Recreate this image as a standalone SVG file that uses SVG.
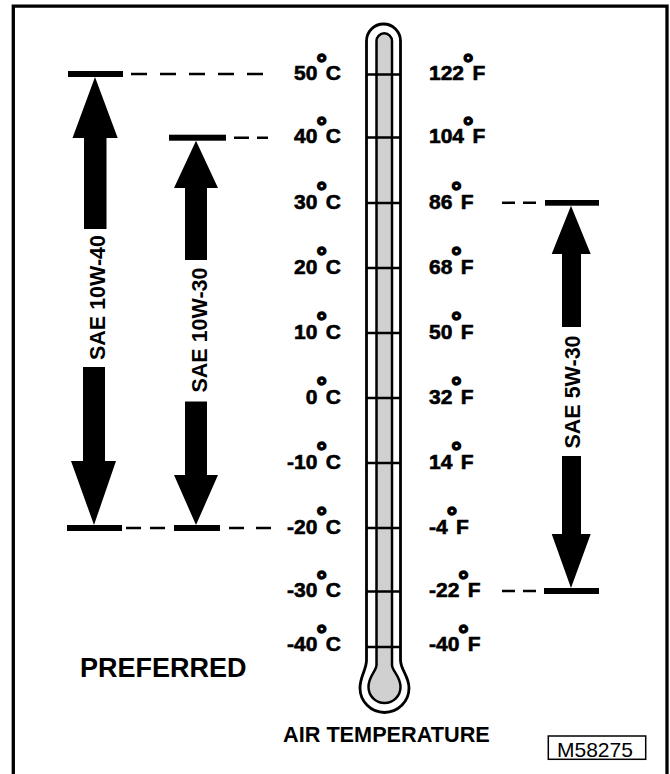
<svg xmlns="http://www.w3.org/2000/svg" width="670" height="774" viewBox="0 0 670 774">
<style>
.lbl{font-family:'Liberation Sans',Arial,sans-serif;font-weight:bold;font-size:21px;fill:#000;stroke:#000;stroke-width:0.6}
.deg{font-size:26px;stroke-width:1.5}
.oil{font-family:'Liberation Sans',Arial,sans-serif;font-weight:bold;font-size:21.5px;fill:#000}
.dash{stroke:#000;stroke-width:2.5;fill:none}
.bar{fill:#000}
.tick{stroke:#000;stroke-width:2.5}
</style>
<rect width="670" height="774" fill="#fff"/>
<path d="M13.3,780 V6.2 H667 V780" fill="none" stroke="#000" stroke-width="3.3"/>

<g id="thermometer">
<path d="M366.5,660 V41 A17,17 0 0 1 400.5,41 V660 C400.5,670 409,676 409,688 A24.5,24.5 0 0 1 360,688 C360,676 366.5,670 366.5,660 Z" fill="#fff" stroke="#000" stroke-width="2.8"/>
<path d="M376.5,665 V41 A7.75,7.75 0 0 1 392,41 V665 C392,671 400.5,676 400.5,687 A16,16 0 0 1 368.5,687 C368.5,676 376.5,671 376.5,665 Z" fill="#d0d0d0" stroke="#000" stroke-width="2.5"/>
<g class="tick">
<line x1="366.5" y1="74.5" x2="400.5" y2="74.5"/>
<line x1="366.5" y1="137.5" x2="400.5" y2="137.5"/>
<line x1="366.5" y1="203" x2="400.5" y2="203"/>
<line x1="366.5" y1="268" x2="400.5" y2="268"/>
<line x1="366.5" y1="333" x2="400.5" y2="333"/>
<line x1="366.5" y1="398" x2="400.5" y2="398"/>
<line x1="366.5" y1="463" x2="400.5" y2="463"/>
<line x1="366.5" y1="528" x2="400.5" y2="528"/>
<line x1="366.5" y1="591.5" x2="400.5" y2="591.5"/>
<line x1="366.5" y1="647" x2="400.5" y2="647"/>
</g>
</g>

<g id="celsius" class="lbl" text-anchor="end">
<text x="341" y="80">50<tspan class="deg" dy="-8.5" dx="-1">°</tspan><tspan dy="8.5" dx="-1">C</tspan></text>
<text x="341" y="143">40<tspan class="deg" dy="-8.5" dx="-1">°</tspan><tspan dy="8.5" dx="-1">C</tspan></text>
<text x="341" y="208.5">30<tspan class="deg" dy="-8.5" dx="-1">°</tspan><tspan dy="8.5" dx="-1">C</tspan></text>
<text x="341" y="273.5">20<tspan class="deg" dy="-8.5" dx="-1">°</tspan><tspan dy="8.5" dx="-1">C</tspan></text>
<text x="341" y="338.5">10<tspan class="deg" dy="-8.5" dx="-1">°</tspan><tspan dy="8.5" dx="-1">C</tspan></text>
<text x="341" y="403.5">0<tspan class="deg" dy="-8.5" dx="-1">°</tspan><tspan dy="8.5" dx="-1">C</tspan></text>
<text x="341" y="468.5">-10<tspan class="deg" dy="-8.5" dx="-1">°</tspan><tspan dy="8.5" dx="-1">C</tspan></text>
<text x="341" y="533.5">-20<tspan class="deg" dy="-8.5" dx="-1">°</tspan><tspan dy="8.5" dx="-1">C</tspan></text>
<text x="341" y="597">-30<tspan class="deg" dy="-8.5" dx="-1">°</tspan><tspan dy="8.5" dx="-1">C</tspan></text>
<text x="341" y="651">-40<tspan class="deg" dy="-8.5" dx="-1">°</tspan><tspan dy="8.5" dx="-1">C</tspan></text>
</g>

<g id="fahrenheit" class="lbl">
<text x="429" y="80">122<tspan class="deg" dy="-8.5" dx="-1">°</tspan><tspan dy="8.5" dx="-1">F</tspan></text>
<text x="429" y="143">104<tspan class="deg" dy="-8.5" dx="-1">°</tspan><tspan dy="8.5" dx="-1">F</tspan></text>
<text x="429" y="208.5">86<tspan class="deg" dy="-8.5" dx="-1">°</tspan><tspan dy="8.5" dx="-1">F</tspan></text>
<text x="429" y="273.5">68<tspan class="deg" dy="-8.5" dx="-1">°</tspan><tspan dy="8.5" dx="-1">F</tspan></text>
<text x="429" y="338.5">50<tspan class="deg" dy="-8.5" dx="-1">°</tspan><tspan dy="8.5" dx="-1">F</tspan></text>
<text x="429" y="403.5">32<tspan class="deg" dy="-8.5" dx="-1">°</tspan><tspan dy="8.5" dx="-1">F</tspan></text>
<text x="429" y="468.5">14<tspan class="deg" dy="-8.5" dx="-1">°</tspan><tspan dy="8.5" dx="-1">F</tspan></text>
<text x="429" y="533.5">-4<tspan class="deg" dy="-8.5" dx="-1">°</tspan><tspan dy="8.5" dx="-1">F</tspan></text>
<text x="429" y="597">-22<tspan class="deg" dy="-8.5" dx="-1">°</tspan><tspan dy="8.5" dx="-1">F</tspan></text>
<text x="429" y="651">-40<tspan class="deg" dy="-8.5" dx="-1">°</tspan><tspan dy="8.5" dx="-1">F</tspan></text>
</g>

<g id="connectors">
<line class="dash" x1="131" y1="74" x2="266" y2="74" stroke-dasharray="16 13"/>
<line class="dash" x1="234" y1="137.7" x2="268" y2="137.7" stroke-dasharray="15 8"/>
<line class="dash" x1="126" y1="528" x2="166" y2="528" stroke-dasharray="15 9"/>
<line class="dash" x1="229" y1="528" x2="272" y2="528" stroke-dasharray="15 12"/>
<line class="dash" x1="502" y1="202.8" x2="537" y2="202.8" stroke-dasharray="13 8"/>
<line class="dash" x1="502" y1="591" x2="537" y2="591" stroke-dasharray="13 8"/>
</g>

<g id="sae-10w-40">
<rect class="bar" x="68" y="71" width="55" height="6"/>
<rect class="bar" x="67" y="525" width="55" height="6"/>
<polygon class="bar" points="95,77 117.7,138 106.5,138 106.5,229 84,229 84,138 72.5,138"/>
<polygon class="bar" points="83,367 105,367 105,461 116,461 94,525 71,461 83,461"/>
<text class="oil" transform="translate(105,297.5) rotate(-90)" text-anchor="middle">SAE 10W-40</text>
</g>

<g id="sae-10w-30">
<rect class="bar" x="169" y="134.7" width="57" height="6"/>
<rect class="bar" x="174" y="525" width="46" height="6"/>
<polygon class="bar" points="196,140.7 218,188 207,188 207,260 185,260 185,188 174,188"/>
<polygon class="bar" points="185,401.5 207,401.5 207,475 218,475 196,525 174,475 185,475"/>
<text class="oil" transform="translate(206.5,330) rotate(-90)" text-anchor="middle">SAE 10W-30</text>
</g>

<g id="sae-5w-30">
<rect class="bar" x="545" y="200" width="54" height="5.7"/>
<rect class="bar" x="544" y="588" width="55" height="6"/>
<polygon class="bar" points="571,205.7 590.7,254 581,254 581,327 562,327 562,254 551.7,254"/>
<polygon class="bar" points="562,456 581,456 581,534 590.7,534 571,588 551.7,534 562,534"/>
<text class="oil" transform="translate(579.5,392) rotate(-90)" text-anchor="middle">SAE 5W-30</text>
</g>

<g id="captions">
<text x="80" y="677" font-family="'Liberation Sans',Arial,sans-serif" font-weight="bold" font-size="27">PREFERRED</text>
<text x="283" y="741.5" font-family="'Liberation Sans',Arial,sans-serif" font-weight="bold" font-size="21.7">AIR TEMPERATURE</text>
</g>

<g id="figure-id">
<rect x="548.3" y="736" width="97.4" height="23.3" fill="#fff" stroke="#000" stroke-width="1.5"/>
<text x="557" y="756.5" font-family="'Liberation Sans',Arial,sans-serif" font-size="21">M58275</text>
</g>
</svg>
